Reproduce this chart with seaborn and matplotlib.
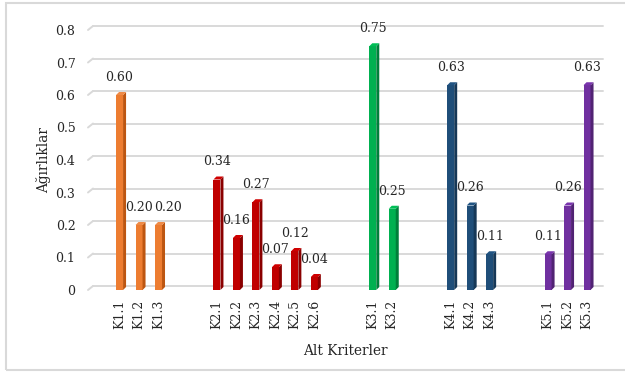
import colorsys

import matplotlib
matplotlib.use("Agg")
import matplotlib.pyplot as plt
import matplotlib.colors as mcolors
from matplotlib.patches import Polygon, Rectangle
from matplotlib.transforms import ScaledTranslation
import pandas as pd
import seaborn as sns

# Sub-criteria weights, one list per main criterion
k1_labels = ["K1.1", "K1.2", "K1.3"]
k1_values = [0.60, 0.20, 0.20]
k2_labels = ["K2.1", "K2.2", "K2.3", "K2.4", "K2.5", "K2.6"]
k2_values = [0.34, 0.16, 0.27, 0.07, 0.12, 0.04]
k3_labels = ["K3.1", "K3.2"]
k3_values = [0.75, 0.25]
k4_labels = ["K4.1", "K4.2", "K4.3"]
k4_values = [0.63, 0.26, 0.11]
k5_labels = ["K5.1", "K5.2", "K5.3"]
k5_values = [0.11, 0.26, 0.63]

group_names = ["K1", "K2", "K3", "K4", "K5"]
group_colors = ["#ED7D31", "#C00000", "#00B050", "#1F4E79", "#7030A0"]
y_ticks = [0, 0.1, 0.2, 0.3, 0.4, 0.5, 0.6, 0.7, 0.8]
y_tick_labels = ["0", "0.1", "0.2", "0.3", "0.4", "0.5", "0.6", "0.7", "0.8"]

groups = [
    (k1_labels, k1_values),
    (k2_labels, k2_values),
    (k3_labels, k3_values),
    (k4_labels, k4_values),
    (k5_labels, k5_values),
]

# Long table plus a category order with two empty slots between criteria
rows = []
order = []
blank = 0
for gi, (labels, values) in enumerate(groups):
    if gi > 0:
        for _ in range(2):
            blank += 1
            order.append(" " * blank)
    for lab, val in zip(labels, values):
        rows.append({"Alt Kriter": lab, "Ağırlık": val, "Kriter": group_names[gi]})
        order.append(lab)
df = pd.DataFrame(rows)

sns.set_theme(style="white")
plt.rcParams["font.family"] = ["DejaVu Serif"]
text_color = "#262626"
grid_color = "#D9D9D9"

W, H = 625, 376
fig = plt.figure(figsize=(W / 100, H / 100), dpi=100)
ax = fig.add_axes([88 / W, 86 / H, (603 - 88) / W, (290 - 30) / H])

sns.barplot(
    data=df, x="Alt Kriter", y="Ağırlık", hue="Kriter", order=order,
    hue_order=group_names, palette=group_colors, dodge=False, width=0.36,
    saturation=1, legend=False, ax=ax, edgecolor="none",
)

ax.set_ylim(0, 0.8)
ax.set_xlim(-1.62, 24.82)
for s in ax.spines.values():
    s.set_visible(False)
ax.grid(False)

# Pixel sizes of one category slot and one unit of the value axis
slot_px = 19.48
unit_px = 325.0

# Back-wall gridlines with the short perspective stroke on the left
back = ScaledTranslation(0, 4 / 100, fig.dpi_scale_trans)
xl, xr = ax.get_xlim()
for v in y_ticks:
    ax.plot([xl + 5 / slot_px, xr], [v, v], color=grid_color, lw=1.4,
            transform=ax.transData + back, zorder=0, clip_on=False)
    ax.plot([xl, xl + 5 / slot_px], [v, v + 4 / unit_px], color=grid_color, lw=1.4,
            zorder=0, clip_on=False)


def shade(color, f):
    r, g, b = mcolors.to_rgb(color)
    h, l, s = colorsys.rgb_to_hls(r, g, b)
    return colorsys.hls_to_rgb(h, max(0, min(1, l * f)), s)


# Side face and top cap give each bar its 3D look
dx = 3 / slot_px
dy = 3 / unit_px
for p in list(ax.patches):
    hgt = p.get_height()
    if not hgt or hgt != hgt or hgt <= 0:
        continue
    x0 = p.get_x()
    x1 = x0 + p.get_width()
    col = p.get_facecolor()
    ax.add_patch(Polygon([(x1, 0), (x1, hgt), (x1 + dx, hgt + dy), (x1 + dx, dy)],
                         closed=True, facecolor=shade(col, 0.72), edgecolor="none", zorder=3))
    ax.add_patch(Polygon([(x0, hgt), (x1, hgt), (x1 + dx, hgt + dy), (x0 + dx, hgt + dy)],
                         closed=True, facecolor=shade(col, 1.08), edgecolor="none", zorder=3))

# Value labels; an equal neighbour's label is nudged right so the two don't collide
labels = []
for cont in ax.containers:
    texts = ax.bar_label(cont, fmt="%.2f", padding=8, fontsize=9, color=text_color)
    for t, p in zip(texts, cont.patches):
        if p.get_height() == p.get_height() and p.get_height() > 0:
            labels.append((p.get_x(), p.get_height(), t))
labels.sort(key=lambda item: item[0])
for (xa, va, ta), (xb, vb, tb) in zip(labels, labels[1:]):
    if abs(xb - xa - 1) < 1e-6 and abs(va - vb) < 0.02:
        ox, oy = tb.xyann
        tb.xyann = (ox + 6.5, oy)

ax.set_yticks(y_ticks)
ax.set_yticklabels(y_tick_labels)
ax.tick_params(axis="y", length=0, pad=9, labelsize=9, labelcolor=text_color)
ax.tick_params(axis="x", length=0, pad=7, labelsize=9, labelcolor=text_color,
               labelrotation=90)

ax.set_xlabel("Alt Kriterler", fontsize=9.8, color=text_color)
ax.set_ylabel("Ağırlıklar", fontsize=9.8, color=text_color)
ax.xaxis.set_label_coords(0.5, -0.208)
ax.yaxis.set_label_coords(-0.072, 0.5)

# Light frame around the chart area
fig.patches.append(Rectangle((6 / W, 6 / H), 1.2, (H - 9) / H, transform=fig.transFigure,
                             fill=False, edgecolor=grid_color, lw=1.5, zorder=-1))

fig.savefig("out.png", dpi=100, facecolor="white")
